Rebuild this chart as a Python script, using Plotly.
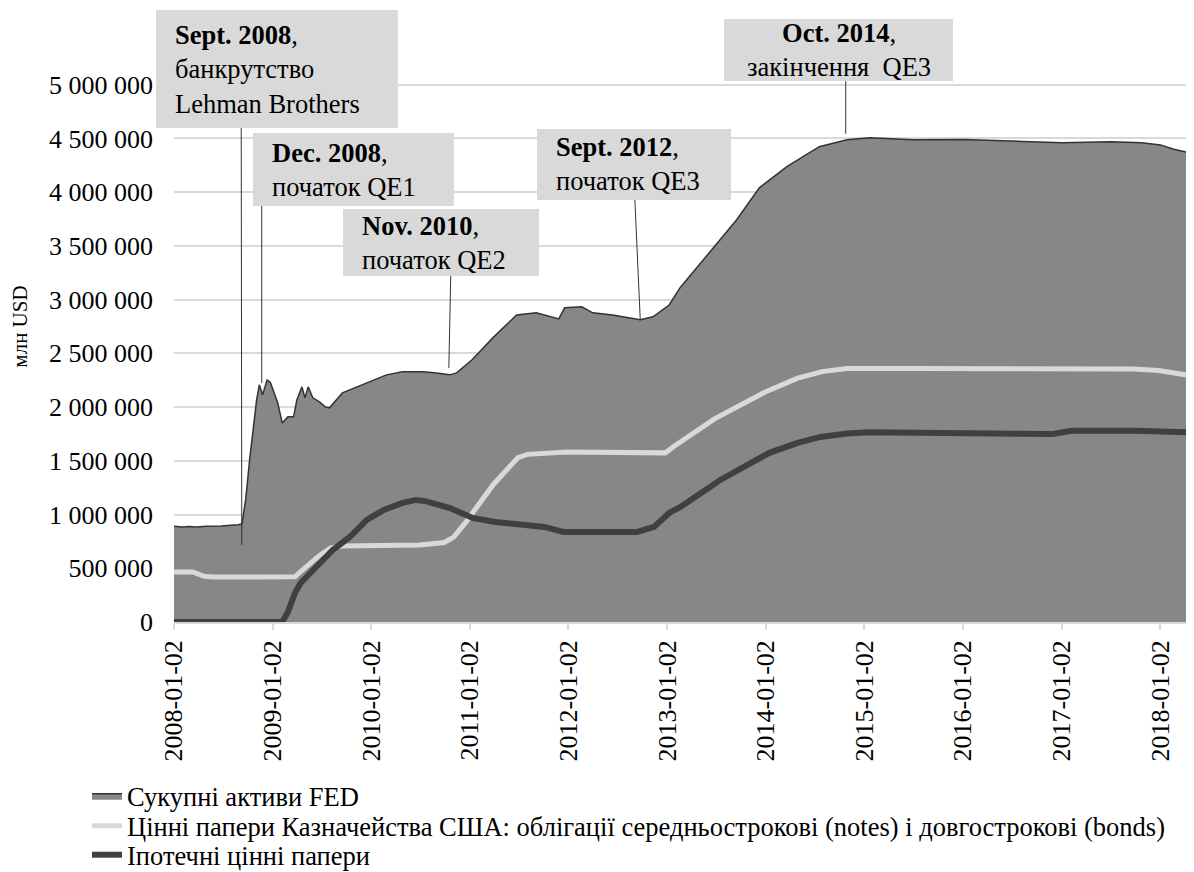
import plotly.graph_objects as go

# --- data (млн USD) ---
total_dates = ["2008-01-02", "2008-01-30", "2008-02-27", "2008-03-26", "2008-04-30", "2008-05-28",
               "2008-06-25", "2008-07-30", "2008-08-27", "2008-09-10", "2008-09-24", "2008-10-08",
               "2008-10-20", "2008-11-03", "2008-11-13", "2008-11-25", "2008-12-12", "2008-12-24",
               "2009-01-20", "2009-02-06", "2009-02-27", "2009-03-20", "2009-04-01", "2009-04-20",
               "2009-05-01", "2009-05-13", "2009-05-30", "2009-06-24", "2009-07-15", "2009-07-31",
               "2009-09-17", "2009-11-10", "2009-12-30", "2010-02-27", "2010-04-27", "2010-07-12",
               "2010-09-01", "2010-10-19", "2010-11-14", "2011-01-10", "2011-03-28", "2011-06-24",
               "2011-09-05", "2011-11-27", "2011-12-19", "2012-02-20", "2012-04-01", "2012-06-13",
               "2012-09-24", "2012-11-10", "2013-01-09", "2013-02-18", "2013-03-15", "2013-05-16",
               "2013-07-17", "2013-09-16", "2013-12-09", "2014-03-21", "2014-07-19", "2014-10-30",
               "2015-01-22", "2015-07-01", "2016-01-06", "2016-07-06", "2017-01-04", "2017-07-05",
               "2017-10-25", "2018-01-03", "2018-02-21", "2018-05-02"]
total_assets = [890000, 885000, 888000, 885000, 890000, 888000,
                893000, 900000, 905000, 915000, 1150000, 1508000,
                1788000, 2067000, 2207000, 2114000, 2253000, 2230000,
                2040000, 1853000, 1909000, 1909000, 2067000, 2188000,
                2086000, 2188000, 2086000, 2048000, 2002000, 1993000,
                2132000, 2188000, 2235000, 2300000, 2328000, 2330000,
                2318000, 2300000, 2318000, 2440000, 2644000, 2858000,
                2877000, 2821000, 2924000, 2933000, 2877000, 2858000,
                2812000, 2840000, 2950000, 3110000, 3184000, 3370000,
                3557000, 3743000, 4041000, 4237000, 4423000, 4488000,
                4507000, 4488000, 4490000, 4475000, 4460000, 4470000,
                4460000, 4440000, 4400000, 4360000]

tsy_dates = ["2008-01-02", "2008-03-12", "2008-04-23", "2008-05-28", "2009-03-25", "2009-04-15",
             "2009-06-24", "2009-08-05", "2009-09-16", "2010-06-30", "2010-09-29", "2010-11-03",
             "2010-12-15", "2011-01-12", "2011-03-30", "2011-06-29", "2011-08-03", "2011-12-28",
             "2012-06-27", "2012-12-26", "2013-01-30", "2013-06-26", "2013-12-31", "2014-04-30",
             "2014-07-30", "2014-10-29", "2015-06-24", "2016-06-29", "2017-06-28", "2017-09-27",
             "2017-12-27", "2018-03-07", "2018-05-02"]
treasuries = [466000, 466000, 425000, 419000, 420000, 470000,
              620000, 690000, 708000, 717000, 740000, 790000,
              920000, 1020000, 1280000, 1530000, 1560000, 1583000,
              1575000, 1574000, 1640000, 1890000, 2141000, 2270000,
              2330000, 2360000, 2360000, 2360000, 2355000, 2355000,
              2340000, 2310000, 2290000]

mbs_dates = ["2008-01-02", "2009-01-07", "2009-02-06", "2009-02-27", "2009-03-25", "2009-04-15",
             "2009-05-20", "2009-06-24", "2009-08-12", "2009-10-14", "2009-12-16", "2010-02-17",
             "2010-04-28", "2010-06-16", "2010-07-21", "2010-10-20", "2011-01-12", "2011-04-06",
             "2011-07-06", "2011-10-05", "2011-12-14", "2012-04-18", "2012-09-12", "2012-11-14",
             "2013-01-09", "2013-02-20", "2013-07-17", "2014-01-15", "2014-04-30", "2014-07-23",
             "2014-10-29", "2015-01-21", "2016-01-06", "2016-11-30", "2017-02-08", "2017-10-04",
             "2018-05-02"]
mbs = [0, 0, 0, 93000, 270000, 363000,
       456000, 531000, 670000, 791000, 950000, 1043000,
       1108000, 1136000, 1125000, 1061000, 968000, 931000,
       903000, 885000, 838000, 840000, 838000, 885000,
       1015000, 1071000, 1322000, 1574000, 1667000, 1722000,
       1755000, 1765000, 1760000, 1750000, 1780000, 1780000,
       1765000]

series_names = ["Сукупні активи FED",
                "Цінні папери Казначейства США: облігації середньострокові (notes) і довгострокові (bonds)",
                "Іпотечні цінні папери"]

year_ticks = [f"{y}-01-02" for y in range(2008, 2019)]
y_ticks = list(range(0, 5000001, 500000))
y_ticktext = [f"{v:,}".replace(",", "\u00a0") for v in y_ticks]

# events: date/value the line points at, and date at the top of the line
event_dates = ["2008-09-09", "2008-11-22", "2010-10-16", "2012-09-24", "2014-10-25"]
event_values = [717000, 2225000, 2365000, 2812000, 4544000]
event_top_dates = ["2008-09-07", "2008-11-22", "2010-10-23", "2012-09-04", "2014-10-25"]
event_titles = ["Sept. 2008", "Dec. 2008", "Nov. 2010", "Sept. 2012", "Oct. 2014"]
event_texts = ["банкрутство<br>Lehman Brothers", "початок QE1", "початок QE2",
               "початок QE3", "закінчення  QE3"]

FONT = "Liberation Serif, Times New Roman, serif"
OFF = 8  # page body margin
W, H = 1194 - OFF, 872 - OFF
L, R, T, B = 174 - OFF, 0, 31 - OFF, 250
YMAX = 5500000
plot_w = W - L - R
plot_h = H - T - B


def px_x(px):
    return (px - OFF - L) / plot_w


def px_y(py):
    return (H - B - (py - OFF)) / plot_h


def px_val(py):
    return px_y(py) * YMAX


fig = go.Figure()
fig.add_trace(go.Scatter(x=total_dates, y=total_assets, name=series_names[0], mode="lines",
                         fill="tozeroy", fillcolor="#878787",
                         line=dict(color="#333333", width=1.5), legend="legend"))
fig.add_trace(go.Scatter(x=tsy_dates, y=treasuries, name=series_names[1], mode="lines",
                         line=dict(color="#d9d9d9", width=5), legend="legend2"))
fig.add_trace(go.Scatter(x=mbs_dates, y=mbs, name=series_names[2], mode="lines",
                         line=dict(color="#404040", width=6), legend="legend3"))

# annotation boxes: (left, top, right, bottom) in page pixels, align
boxes = [(156, 10, 398, 128, "left"), (253, 133, 454, 206, "left"), (343, 209, 539, 276, "left"),
         (537, 129, 731, 200, "left"), (724, 19, 953, 81, "center")]

for i, (x0, y0, x1, y1, al) in enumerate(boxes):
    fig.add_shape(type="rect", xref="paper", yref="paper",
                  x0=px_x(x0), x1=px_x(x1), y0=px_y(y1), y1=px_y(y0),
                  fillcolor="#d9d9d9", line_width=0, layer="above")
    txt = f"<b>{event_titles[i]}</b>,<br>{event_texts[i]}"
    if al == "left":
        fig.add_annotation(xref="paper", yref="paper", x=px_x(x0 + 17), y=px_y((y0 + y1) / 2),
                           xanchor="left", yanchor="middle", align="left", text=txt,
                           showarrow=False, font=dict(family=FONT, size=26.5, color="#000000"))
    else:
        fig.add_annotation(xref="paper", yref="paper", x=px_x((x0 + x1) / 2), y=px_y((y0 + y1) / 2),
                           xanchor="center", yanchor="middle", align="center", text=txt,
                           showarrow=False, font=dict(family=FONT, size=26.5, color="#000000"))
    fig.add_shape(type="line", xref="x", yref="y",
                  x0=event_dates[i], y0=event_values[i], x1=event_top_dates[i], y1=px_val(y1),
                  line=dict(color="#333333", width=1), layer="above")

legend_style = dict(orientation="v", xanchor="left", yanchor="middle",
                    font=dict(family=FONT, size=26.5), bgcolor="rgba(0,0,0,0)")

fig.update_layout(
    width=W, height=H,
    margin=dict(l=L, r=R, t=T, b=B, autoexpand=False),
    paper_bgcolor="white", plot_bgcolor="white",
    font=dict(family=FONT, size=26, color="#000000"),
    showlegend=True,
    legend=dict(x=px_x(87), y=px_y(796), **legend_style),
    legend2=dict(x=px_x(87), y=px_y(826), **legend_style),
    legend3=dict(x=px_x(87), y=px_y(855), **legend_style),
)
fig.update_xaxes(type="date", range=["2008-01-02", "2018-05-07"],
                 tickvals=year_ticks, ticktext=year_ticks, tickangle=-90,
                 ticks="outside", ticklen=6, tickcolor="#d9d9d9", tickwidth=1.5,
                 showgrid=False, showline=True, linecolor="#d9d9d9", linewidth=1.5,
                 tickfont=dict(family=FONT, size=26), ticklabelstandoff=0)
fig.update_yaxes(range=[0, YMAX], tickvals=y_ticks, ticktext=y_ticktext,
                 showgrid=True, gridcolor="#d9d9d9", gridwidth=1.5, zeroline=False,
                 showline=False, ticks="", ticklabelstandoff=20,
                 tickfont=dict(family=FONT, size=26),
                 title=dict(text="млн USD", font=dict(family=FONT, size=21), standoff=22))

fig.write_html("out.html")
